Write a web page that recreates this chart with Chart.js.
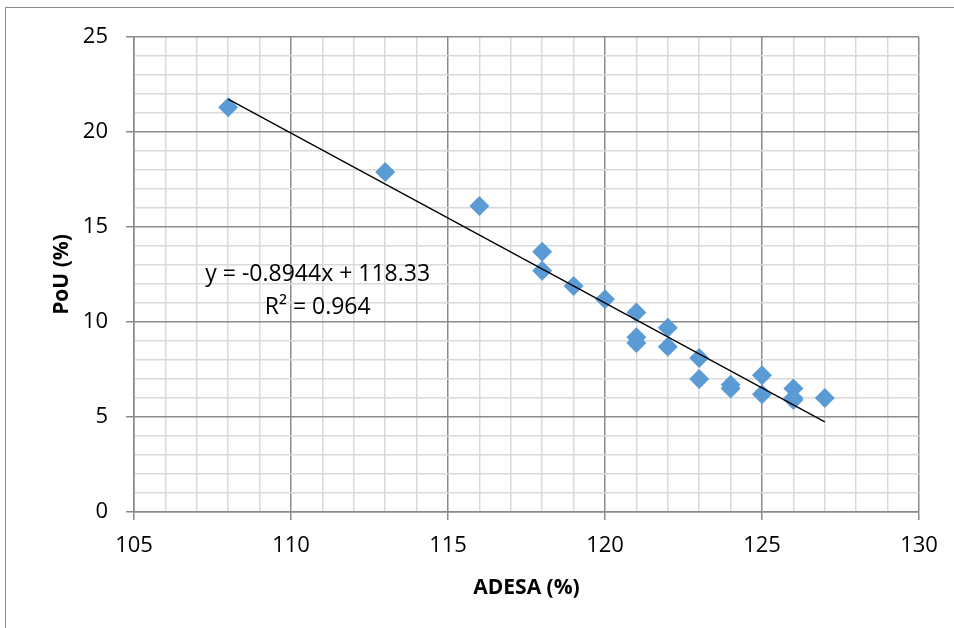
<!DOCTYPE html>
<html>
<head>
<meta charset="utf-8">
<script src="https://cdn.jsdelivr.net/npm/chart.js@4/dist/chart.umd.min.js"></script>
<style>
  body { margin: 0; background: #fff; }
  canvas { display: block; }
</style>
</head>
<body>
<canvas id="chart" width="954" height="628"></canvas>
<script>
// scatter values
const adesa = [108, 113, 116, 118, 118, 119, 120, 121, 121, 121, 122, 122, 123, 123, 124, 124, 125, 125, 126, 126, 126, 127];
const pou = [21.3, 17.9, 16.1, 13.7, 12.7, 11.9, 11.2, 10.5, 9.2, 8.9, 9.7, 8.7, 8.1, 7.0, 6.7, 6.5, 7.2, 6.2, 6.5, 6.0, 5.9, 6.0];

// trend line ends
const trendX = [108, 127];
const trendY = [21.73, 4.74];

const eqLines = ['y = -0.8944x + 118.33', 'R\u00b2 = 0.964'];
const eqAt = [[110.85, 12.5], [110.85, 10.75]];

const tickFont = { family: 'Open Sans', size: 22 };
const titleFont = { family: 'Open Sans', size: 21, weight: 'bold' };

const frame = {
  id: 'frame',
  beforeDraw(chart) {
    const ctx = chart.ctx;
    ctx.save();
    ctx.strokeStyle = '#8c8c8c';
    ctx.lineWidth = 1;
    ctx.strokeRect(5.5, 7.5, 1200, 1200);
    ctx.restore();
  }
};

const equation = {
  id: 'equation',
  afterDatasetsDraw(chart) {
    const ctx = chart.ctx;
    const xs = chart.scales.x, ys = chart.scales.y;
    ctx.save();
    ctx.fillStyle = '#000';
    ctx.font = '23px "Open Sans"';
    ctx.textAlign = 'center';
    ctx.textBaseline = 'middle';
    eqLines.forEach((t, i) => {
      ctx.fillText(t, xs.getPixelForValue(eqAt[i][0]), ys.getPixelForValue(eqAt[i][1]));
    });
    ctx.restore();
  }
};

const gridColor = c => (c.tick && c.tick.value % 5 === 0) ? '#8a8a8a' : '#d9d9d9';
const tickColor = c => (c.tick && c.tick.value % 5 === 0) ? '#8a8a8a' : 'rgba(0,0,0,0)';

new Chart(document.getElementById('chart').getContext('2d'), {
  type: 'scatter',
  data: {
    datasets: [
      {
        label: 'trend',
        data: trendX.map((x, i) => ({ x: x, y: trendY[i] })),
        showLine: true,
        borderColor: '#000',
        borderWidth: 1.3,
        pointRadius: 0,
        order: 0
      },
      {
        label: 'PoU',
        data: adesa.map((x, i) => ({ x: x, y: pou[i] })),
        pointStyle: 'rectRot',
        pointRadius: 10,
        backgroundColor: '#5b9bd5',
        borderWidth: 0,
        order: 1
      }
    ]
  },
  options: {
    responsive: false,
    animation: false,
    layout: { padding: { top: 37, left: 0, right: 35, bottom: 0 } },
    plugins: { legend: { display: false }, tooltip: { enabled: false } },
    scales: {
      x: {
        type: 'linear',
        min: 105, max: 130,
        afterFit: s => { s.height = 116; },
        ticks: {
          stepSize: 1, autoSkip: false, maxRotation: 0, padding: 13,
          color: '#000', font: tickFont,
          callback: v => v % 5 === 0 ? v : ''
        },
        grid: { color: gridColor, tickColor: tickColor, tickLength: 8, lineWidth: 1.5 },
        border: { color: '#8a8a8a', width: 1.5 },
        title: { display: true, text: 'ADESA (%)', color: '#000', font: titleFont, padding: { top: 27, bottom: 27 } }
      },
      y: {
        min: 0, max: 25,
        afterFit: s => { s.width = 134; },
        ticks: {
          stepSize: 1, autoSkip: false, padding: 18,
          color: '#000', font: tickFont,
          callback: v => v % 5 === 0 ? v : ''
        },
        grid: { color: gridColor, tickColor: tickColor, tickLength: 8, lineWidth: 1.5 },
        border: { color: '#8a8a8a', width: 1.5 },
        title: { display: true, text: 'PoU (%)', color: '#000', font: titleFont, padding: { top: 49, bottom: 49 } }
      }
    }
  },
  plugins: [frame, equation]
});
</script>
</body>
</html>
